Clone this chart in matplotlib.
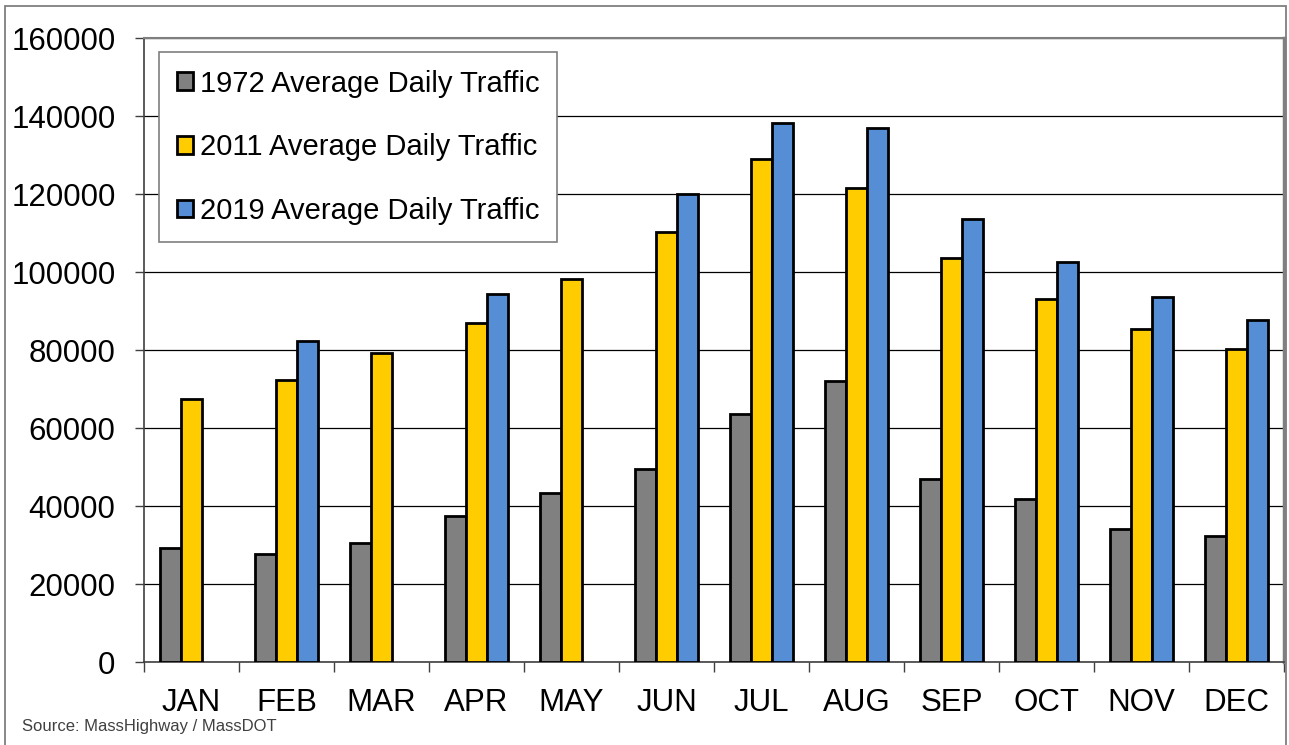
import numpy as np
import matplotlib
matplotlib.use("Agg")
import matplotlib.pyplot as plt
from matplotlib.patches import Rectangle

plt.rcParams['font.family'] = ['Liberation Sans', 'DejaVu Sans']

# monthly average daily traffic
months = ["JAN", "FEB", "MAR", "APR", "MAY", "JUN",
          "JUL", "AUG", "SEP", "OCT", "NOV", "DEC"]
adt_1972 = [29300, 27700, 30400, 37400, 43400, 49500,
            63600, 72000, 47000, 41700, 34200, 32400]
adt_2011 = [67400, 72300, 79200, 87000, 98200, 110200,
            129100, 121600, 103500, 93000, 85300, 80200]
# no 2019 counts for JAN, MAR, MAY
adt_2019 = [np.nan, 82400, np.nan, 94300, np.nan, 120100,
            138100, 136800, 113700, 102600, 93500, 87700]

series_names = ["1972 Average Daily Traffic",
                "2011 Average Daily Traffic",
                "2019 Average Daily Traffic"]
yticks = [0, 20000, 40000, 60000, 80000, 100000, 120000, 140000, 160000]

W, H = 1289, 745
fig = plt.figure(figsize=(W / 100, H / 100), dpi=100)
ax = fig.add_axes([144 / W, (H - 662) / H, 1140 / W, 624 / H])

# outer frame of the chart
fig.patches.append(Rectangle((5 / W, -0.02), 1281 / W, (H - 6) / H + 0.02,
                             transform=fig.transFigure, fill=False,
                             edgecolor="#7f7f7f", linewidth=1.3))

x = np.arange(len(months))
bw = 0.224
colors = ["#808080", "#FFCC00", "#558ED5"]
for i, (vals, c, name) in enumerate(zip([adt_1972, adt_2011, adt_2019], colors, series_names)):
    ax.bar(x + (i - 1) * bw, vals, width=bw, color=c, edgecolor="black",
           linewidth=2.0, label=name, zorder=3)

ax.set_xlim(-0.5, len(months) - 0.5)
ax.set_ylim(0, 160000)
ax.set_yticks(yticks)
ax.set_yticklabels([str(v) for v in yticks])
ax.yaxis.grid(True, color="black", linewidth=0.9, zorder=0)

ax.set_xticks(x)
ax.set_xticklabels(months)
ax.set_xticks(np.arange(-0.5, len(months)), minor=True)
ax.tick_params(axis="x", which="major", length=0, pad=18.5, labelsize=22.5)
ax.tick_params(axis="x", which="minor", length=7, width=1.0, color="#404040", direction="out")
ax.tick_params(axis="y", length=6.5, width=1.0, color="#404040", pad=14, labelsize=22.5)

for side in ["left", "bottom"]:
    ax.spines[side].set_color("#404040")
    ax.spines[side].set_linewidth(1.2)
ax.spines["top"].set_color("#7f7f7f")
ax.spines["top"].set_linewidth(1.5)
ax.spines["right"].set_color("#7f7f7f")
ax.spines["right"].set_linewidth(2.5)

leg = ax.legend(loc="upper left", bbox_to_anchor=(15 / 1140, (662 - 52) / 624),
                borderaxespad=0, fontsize=21, frameon=True, fancybox=False,
                edgecolor="#7f7f7f", framealpha=1, handlelength=0.55,
                handleheight=0.55, handletextpad=0.24, labelspacing=1.22,
                borderpad=0.6)
leg.get_frame().set_linewidth(1.2)

fig.text(22 / W, (H - 726) / H, "Source: MassHighway / MassDOT",
         fontsize=12, color="#404040", va="center", ha="left")

fig.savefig("out.png", dpi=100)
